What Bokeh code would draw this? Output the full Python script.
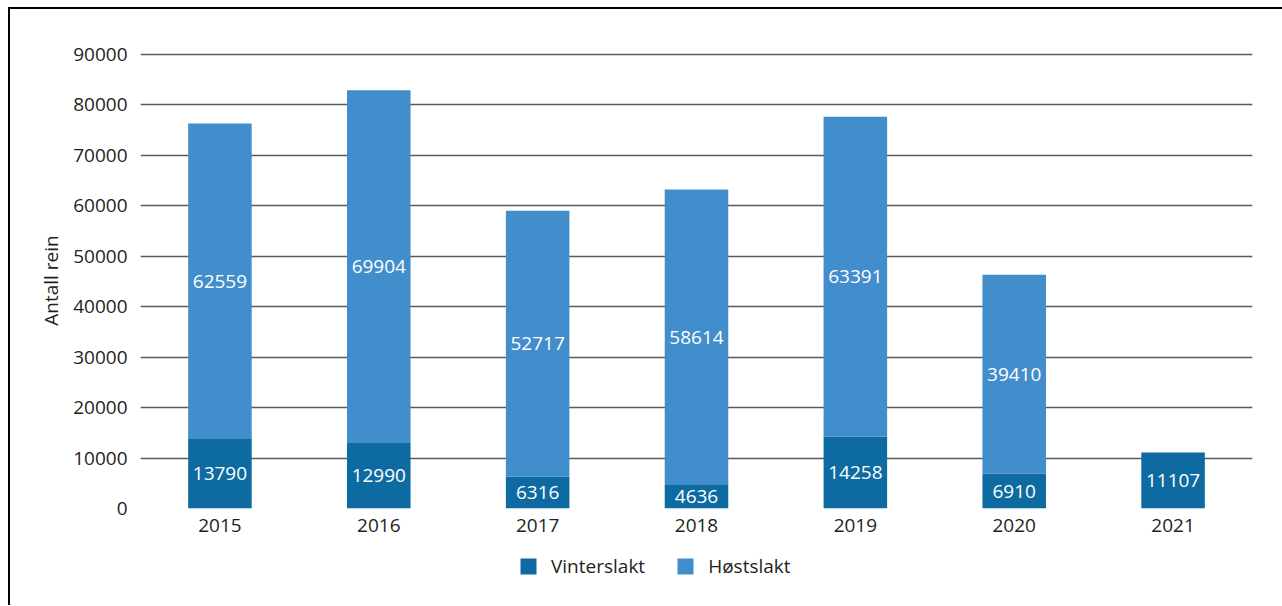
from bokeh.plotting import figure
from bokeh.layouts import column
from bokeh.models import ColumnDataSource, FactorRange, Range1d, LabelSet, Legend, LegendItem, SingleIntervalTicker
from bokeh.core.properties import value
from bokeh.embed import file_html
from bokeh.resources import INLINE

years = ["2015", "2016", "2017", "2018", "2019", "2020", "2021"]
vinterslakt = [13790, 12990, 6316, 4636, 14258, 6910, 11107]
hostslakt = [62559, 69904, 52717, 58614, 63391, 39410, 0]

series = ["Vinterslakt", "Høstslakt"]
colors = ["#0e6ba1", "#428dcb"]
FONT = "Open Sans"
TXT = "#231f20"

src = ColumnDataSource(dict(year=years, Vinterslakt=vinterslakt, Høstslakt=hostslakt))

p = figure(x_range=FactorRange(factors=years), y_range=Range1d(0, 90400),
           width=1272, height=536, output_backend="svg", toolbar_location=None,
           min_border_left=130, min_border_top=43, min_border_right=30, min_border_bottom=37)
p.outline_line_color = None

rs = p.vbar_stack(series, x="year", width=0.4, color=colors, line_color=None, source=src)

# labels
lab_x, lab_y, lab_t = [], [], []
for y, v, h in zip(years, vinterslakt, hostslakt):
    if v > 0:
        lab_x.append(y); lab_y.append(v / 2); lab_t.append(str(v))
    if h > 0:
        lab_x.append(y); lab_y.append(v + h / 2); lab_t.append(str(h))
lsrc = ColumnDataSource(dict(x=lab_x, y=lab_y, t=lab_t))
p.add_layout(LabelSet(x="x", y="y", text="t", source=lsrc, text_color="white",
                      text_font=value(FONT), text_font_size="19px", text_align="center",
                      text_baseline="middle"))

# axes
p.yaxis.ticker = SingleIntervalTicker(interval=10000)
p.yaxis.axis_label = "Antall rein"
p.yaxis.axis_label_text_font = FONT
p.yaxis.axis_label_text_font_size = "19px"
p.yaxis.axis_label_text_font_style = "normal"
p.yaxis.axis_label_text_color = TXT
p.yaxis.axis_label_standoff = 6
for ax in (p.xaxis[0], p.yaxis[0]):
    ax.axis_line_color = None
    ax.major_tick_line_color = None
    ax.minor_tick_line_color = None
    ax.major_label_text_font = FONT
    ax.major_label_text_font_size = "19px"
    ax.major_label_text_color = TXT
p.yaxis.major_label_standoff = 7
p.xaxis.major_label_standoff = 4

p.xgrid.grid_line_color = None
p.ygrid.grid_line_color = "#5a5a5a"
p.ygrid.grid_line_width = 1.3
p.ygrid.level = "underlay"

# legend panel (same stacked bars, kept far out of view; only the legend shows)
q = figure(width=1272, height=60, output_backend="svg", toolbar_location=None,
           x_range=FactorRange(factors=years), y_range=Range1d(1e7, 1e7 + 1),
           min_border=0, min_border_left=0, min_border_right=0,
           min_border_top=0, min_border_bottom=0,
           x_axis_location=None, y_axis_location=None)
q.outline_line_color = None
q.grid.visible = False
qs = q.vbar_stack(series, x="year", width=0.4, color=colors, line_color=None, source=src)
legend = Legend(items=[LegendItem(label=s, renderers=[r]) for s, r in zip(series, qs)],
                orientation="horizontal", location=(378, 26),
                border_line_color=None, background_fill_alpha=0,
                glyph_width=20, glyph_height=20, label_standoff=13, spacing=30,
                padding=0, margin=0, label_height=20,
                label_text_font=FONT, label_text_font_size="19px", label_text_color=TXT)
q.add_layout(legend, "center")

layout = column(p, q, spacing=0,
                styles={"border-left": "2px solid black", "border-top": "2px solid black",
                        "margin-left": "8px", "margin-top": "7px"})

open("out.html", "w").write(file_html(layout, INLINE))
